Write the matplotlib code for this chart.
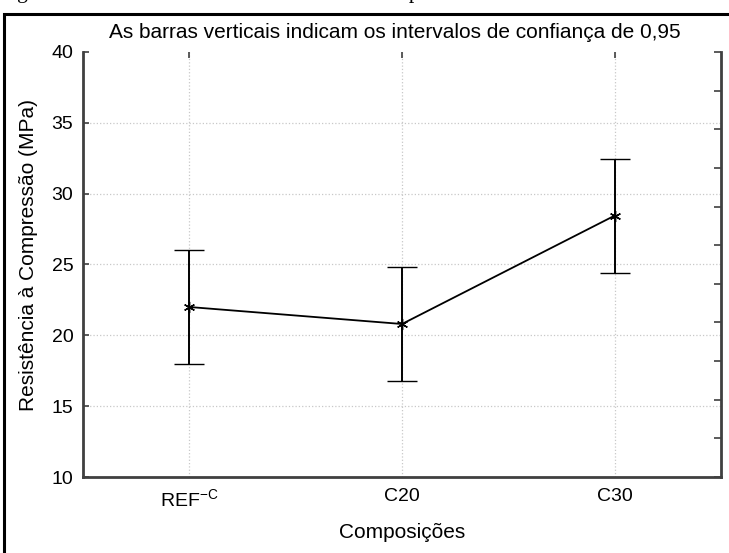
import numpy as np
import matplotlib
matplotlib.use("Agg")
import matplotlib.pyplot as plt
from matplotlib.patches import Rectangle

plt.rcParams['font.family'] = ['Liberation Sans', 'DejaVu Sans']
plt.rcParams['mathtext.fontset'] = 'custom'
plt.rcParams['mathtext.rm'] = 'Liberation Sans'

# compressive strength means and 95% confidence half-widths
composicoes = [r"REF$^{\mathregular{-C}}$", "C20", "C30"]
medias = [22.0, 20.8, 28.45]
erros = [4.02, 4.05, 4.02]

fig = plt.figure(figsize=(7.29, 5.53), dpi=100)
ax = fig.add_axes([83/729, 1-477/553, (721-83)/729, (477-52)/553])

x = np.arange(len(composicoes))
ax.errorbar(x, medias, yerr=erros, color='black', lw=1.3, marker=(6, 2, 0),
            ms=8, mew=1.0, capsize=11, capthick=1.5, elinewidth=1.4)

ax.set_xlim(-0.5, 2.5)
ax.set_ylim(10, 40)
ax.set_xticks(x)
ax.set_xticklabels(composicoes, fontsize=14)
ax.set_yticks([10, 15, 20, 25, 30, 35, 40])
ax.tick_params(axis='y', labelsize=14, direction='in', length=4, width=1.2,
               color='#404040', pad=7)
ax.tick_params(axis='x', top=True, bottom=False, direction='in', length=4,
               width=1.2, color='#404040', pad=8)

# dotted grid
for yv in [15, 20, 25, 30, 35]:
    ax.axhline(yv, color='#c8c8c8', lw=0.9, ls=':', zorder=0)
for xv in x:
    ax.axvline(xv, color='#c8c8c8', lw=0.9, ls=':', zorder=0)

for side in ['left', 'bottom', 'right']:
    ax.spines[side].set_color('#404040')
    ax.spines[side].set_linewidth(2)
ax.spines['top'].set_visible(False)

# right axis has its own tick spacing
ax2 = ax.twinx()
ax2.set_ylim(10, 40)
ax2.set_yticks(np.linspace(10, 40, 12))
ax2.tick_params(axis='y', direction='in', length=5, width=1.2,
                color='#404040', labelright=False)
for sp in ax2.spines.values():
    sp.set_visible(False)

ax.set_xlabel("Composições", fontsize=15, labelpad=9)
ax.set_ylabel("Resistência à Compressão (MPa)", fontsize=15)
ax.yaxis.set_label_coords(-0.071, 0.523)
ax.set_title("As barras verticais indicam os intervalos de confiança de 0,95",
             fontsize=15, pad=10, x=0.488)

# page frame and caption line above it
fig.patches.append(Rectangle((4/729, -0.1), 1.2, 1.1 - 14/553, transform=fig.transFigure,
                             fill=False, ec='black', lw=2.2))
fig.text(-1/729, 1 + 2/553, "Figura 6 – Valores médios de resistência à compressão",
         fontsize=15.7, family='Liberation Serif', va='baseline', ha='left')

fig.savefig("out.png", dpi=100)
